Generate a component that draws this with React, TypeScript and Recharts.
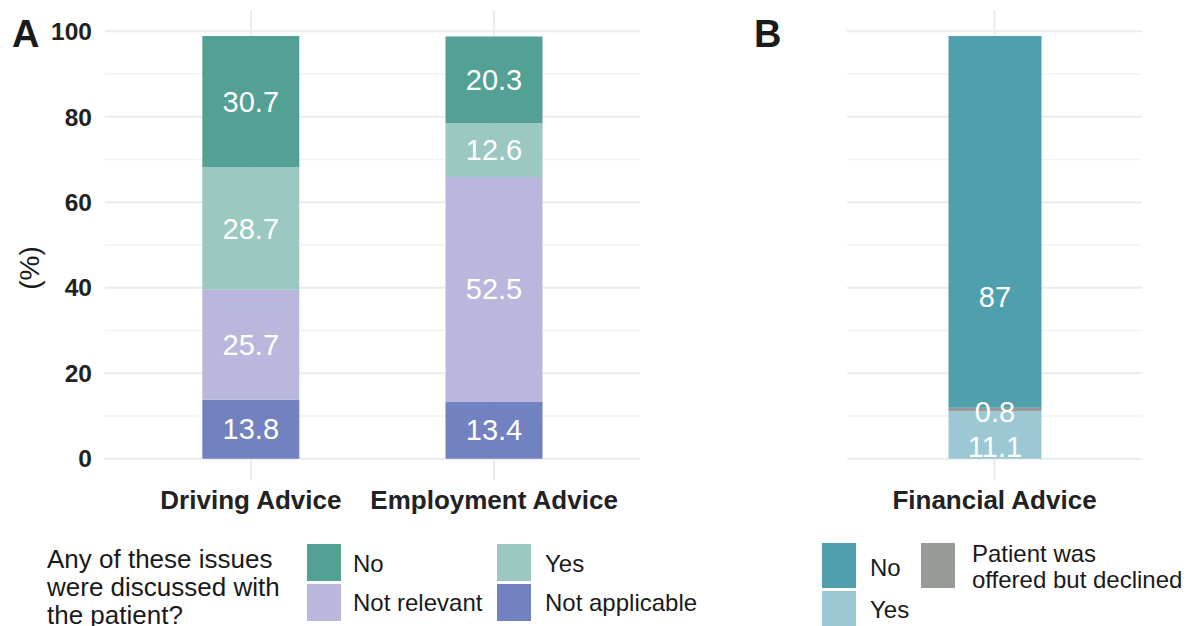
import React from "react";
import {
  Bar,
  BarChart,
  CartesianGrid,
  LabelList,
  XAxis,
  YAxis,
} from "recharts";

const categoriesA = ["Driving Advice", "Employment Advice"];
const notApplicableA = [13.8, 13.4];
const notRelevantA = [25.7, 52.5];
const yesA = [28.7, 12.6];
const noA = [30.7, 20.3];

const categoriesB = ["Financial Advice"];
const yesB = [11.1];
const declinedB = [0.8];
const noB = [87];

const majorTicks = [0, 20, 40, 60, 80, 100];
const minorTicks = [10, 30, 50, 70, 90];
const yDomain = [-5, 105];

const NO_A = "#53a094";
const YES_A = "#9bc8c1";
const NOT_RELEVANT = "#b9b8dc";
const NOT_APPLICABLE = "#7281c0";
const NO_B = "#4f9fac";
const YES_B = "#9cc8d6";
const DECLINED = "#969c95";

const FONT = "'Liberation Sans', Arial, Helvetica, sans-serif";
const GRID = "#ebebeb";
const GRID_MINOR = "#f2f2f2";

const dataA = categoriesA.map((c, i) => ({
  name: c,
  notApplicable: notApplicableA[i],
  notRelevant: notRelevantA[i],
  yes: yesA[i],
  no: noA[i],
}));

const dataB = categoriesB.map((c, i) => ({
  name: c,
  yes: yesB[i],
  declined: declinedB[i],
  no: noB[i],
}));

const yTickStyle = { fontSize: 24.5, fontWeight: 700, fill: "#222", fontFamily: FONT };
const xTickStyle = { fontSize: 26, fontWeight: 700, fill: "#222", fontFamily: FONT };

// label drawn at a fraction of the segment height, measured from its bottom
function segLabel(frac: number) {
  return (props: any) => {
    const vb = props.viewBox || props;
    const { x, y, width, height } = vb;
    const cy = y + height - frac * height;
    return (
      <text
        x={x + width / 2}
        y={cy}
        textAnchor="middle"
        dominantBaseline="central"
        fill="#fff"
        fontSize={29}
        fontFamily={FONT}
      >
        {props.value}
      </text>
    );
  };
}

function Segment({ dataKey, color, frac = 0.5 }: { dataKey: string; color: string; frac?: number }) {
  return (
    <Bar dataKey={dataKey} stackId="s" fill={color} isAnimationActive={false}>
      <LabelList dataKey={dataKey} content={segLabel(frac)} />
    </Bar>
  );
}

function Key({ x, y, w, h, color }: { x: number; y: number; w: number; h: number; color: string }) {
  return <div style={{ position: "absolute", left: x, top: y, width: w, height: h, background: color }} />;
}

function Txt({ x, y, size = 24, children, bold = false }: any) {
  return (
    <div
      style={{
        position: "absolute",
        left: x,
        top: y,
        fontSize: size,
        fontWeight: bold ? 700 : 400,
        lineHeight: 1,
        whiteSpace: "nowrap",
        color: "#1a1a1a",
      }}
    >
      {children}
    </div>
  );
}

export default function App() {
  return (
    <div
      style={{
        position: "absolute",
        left: 0,
        top: 0,
        width: 1189,
        height: 626,
        background: "#fff",
        fontFamily: FONT,
        overflow: "hidden",
      }}
    >
      <div style={{ position: "absolute", left: 0, top: 0 }}>
        <BarChart
          width={660}
          height={530}
          data={dataA}
          margin={{ top: 10, right: 20, bottom: 10, left: 0 }}
          barSize={97}
        >
          <YAxis yAxisId="minor" hide domain={yDomain} ticks={minorTicks} type="number" allowDataOverflow />
          <CartesianGrid yAxisId="minor" vertical={false} syncWithTicks stroke={GRID_MINOR} strokeWidth={1.5} />
          <CartesianGrid syncWithTicks stroke={GRID} strokeWidth={2} />
          <XAxis
            dataKey="name"
            axisLine={false}
            tickLine={false}
            tickSize={0}
            tickMargin={11}
            height={40}
            padding={{ left: 24.3, right: 24.3 }}
            tick={xTickStyle}
          />
          <YAxis
            type="number"
            domain={yDomain}
            ticks={majorTicks}
            allowDataOverflow
            width={105}
            axisLine={false}
            tickLine={false}
            tickSize={0}
            tickMargin={13}
            tick={yTickStyle}
          />
          <Segment dataKey="notApplicable" color={NOT_APPLICABLE} />
          <Segment dataKey="notRelevant" color={NOT_RELEVANT} />
          <Segment dataKey="yes" color={YES_A} />
          <Segment dataKey="no" color={NO_A} />
        </BarChart>
      </div>

      <div style={{ position: "absolute", left: 700, top: 0 }}>
        <BarChart
          width={489}
          height={530}
          data={dataB}
          margin={{ top: 10, right: 47, bottom: 10, left: 147 }}
          barSize={93}
        >
          <YAxis yAxisId="minor" hide domain={yDomain} ticks={minorTicks} type="number" allowDataOverflow />
          <CartesianGrid yAxisId="minor" vertical={false} syncWithTicks stroke={GRID_MINOR} strokeWidth={1.5} />
          <CartesianGrid syncWithTicks stroke={GRID} strokeWidth={2} />
          <XAxis
            dataKey="name"
            axisLine={false}
            tickLine={false}
            tickSize={0}
            tickMargin={11}
            height={40}
            padding={{ left: 24.5, right: 24.5 }}
            tick={xTickStyle}
          />
          <YAxis type="number" hide domain={yDomain} ticks={majorTicks} allowDataOverflow />
          <Segment dataKey="yes" color={YES_B} frac={0.243} />
          <Segment dataKey="declined" color={DECLINED} frac={-0.25} />
          <Segment dataKey="no" color={NO_B} frac={0.297} />
        </BarChart>
      </div>

      {/* panel tags and y title */}
      <Txt x={12} y={15} size={38} bold>A</Txt>
      <Txt x={754} y={15} size={38} bold>B</Txt>
      <div
        style={{
          position: "absolute",
          left: 30,
          top: 268,
          transform: "translate(-50%, -50%) rotate(-90deg)",
          fontSize: 28,
          color: "#1a1a1a",
          whiteSpace: "nowrap",
        }}
      >
        (%)
      </div>

      {/* legend A */}
      <div
        style={{
          position: "absolute",
          left: 47,
          top: 545,
          fontSize: 26,
          lineHeight: "28px",
          color: "#1a1a1a",
          whiteSpace: "nowrap",
        }}
      >
        Any of these issues
        <br />
        were discussed with
        <br />
        the patient?
      </div>
      <Key x={307} y={544} w={34} h={37} color={NO_A} />
      <Key x={307} y={584} w={34} h={37} color={NOT_RELEVANT} />
      <Key x={497} y={544} w={34} h={37} color={YES_A} />
      <Key x={497} y={584} w={34} h={37} color={NOT_APPLICABLE} />
      <Txt x={353} y={552}>No</Txt>
      <Txt x={353} y={591}>Not relevant</Txt>
      <Txt x={545} y={552}>Yes</Txt>
      <Txt x={545} y={591}>Not applicable</Txt>

      {/* legend B */}
      <Key x={822} y={543} w={34} h={45} color={NO_B} />
      <Key x={822} y={591} w={34} h={45} color={YES_B} />
      <Key x={921} y={543} w={34} h={45} color={DECLINED} />
      <Txt x={870} y={556}>No</Txt>
      <Txt x={870} y={598}>Yes</Txt>
      <Txt x={972} y={542}>Patient was</Txt>
      <Txt x={972} y={568}>offered but declined</Txt>
    </div>
  );
}
